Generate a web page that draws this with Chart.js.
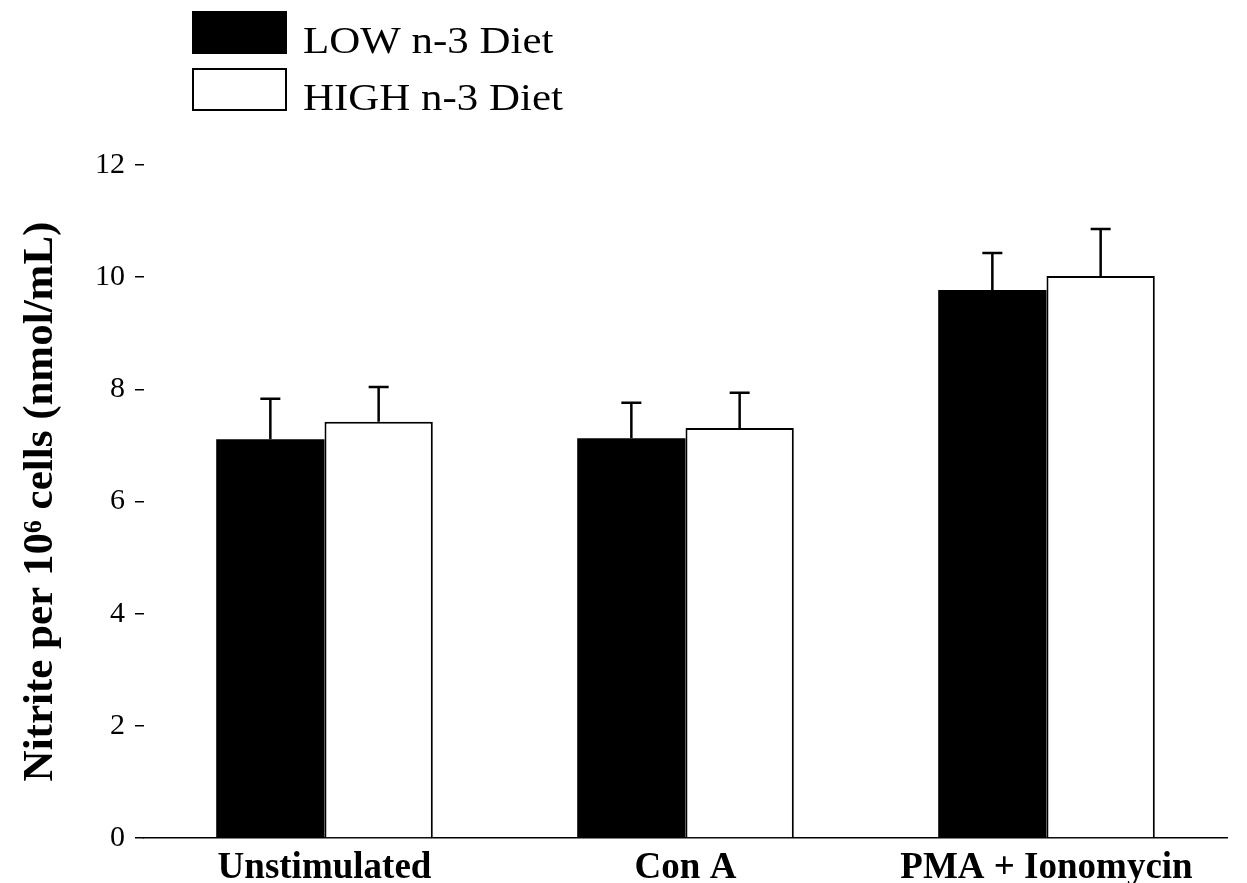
<!DOCTYPE html>
<html>
<head>
<meta charset="utf-8">
<script src="https://cdn.jsdelivr.net/npm/chart.js@4.4.0/dist/chart.umd.min.js"></script>
<style>
html, body { margin: 0; padding: 0; background: #fff; }
</style>
</head>
<body>
<canvas id="nitriteChart" width="1247" height="883"></canvas>
<script>
// Data
const categories = ['Unstimulated', 'Con A', 'PMA + Ionomycin'];
const seriesNames = ['LOW n-3 Diet', 'HIGH n-3 Diet'];
const lowValues = [7.11, 7.13, 9.77];
const lowErrors = [0.72, 0.63, 0.66];
const highValues = [7.42, 7.31, 10.02];
const highErrors = [0.62, 0.63, 0.84];
const yTicks = [0, 2, 4, 6, 8, 10, 12];

const serif = "'Liberation Serif', 'Times New Roman', serif";

// Stacked legend in the top-left corner
const stackedLegend = {
    id: 'stackedLegend',
    afterDraw(chart) {
        const ctx = chart.ctx;
        chart.data.datasets.forEach((ds, i) => {
            const y = 12 + i * 57;
            ctx.save();
            ctx.fillStyle = ds.backgroundColor;
            ctx.fillRect(193, y, 93, 41);
            ctx.strokeStyle = '#000';
            ctx.lineWidth = 2;
            ctx.strokeRect(193, y, 93, 41);
            // the scanned legend text is a little wider than the font
            ctx.translate(303, y + 41);
            ctx.scale(1.13, 1);
            ctx.fillStyle = '#000';
            ctx.font = '38px ' + serif;
            ctx.textBaseline = 'alphabetic';
            ctx.fillText(ds.label, 0, 0);
            ctx.restore();
        });
    }
};

// Upward-only error whiskers with caps
const errorBars = {
    id: 'errorBars',
    afterDatasetsDraw(chart) {
        const ctx = chart.ctx;
        const yScale = chart.scales.y;
        ctx.save();
        ctx.strokeStyle = '#000';
        ctx.lineWidth = 2.5;
        chart.data.datasets.forEach((ds, i) => {
            const meta = chart.getDatasetMeta(i);
            meta.data.forEach((bar, j) => {
                const top = yScale.getPixelForValue(ds.data[j] + ds.errors[j]);
                ctx.beginPath();
                ctx.moveTo(bar.x, bar.y);
                ctx.lineTo(bar.x, top);
                ctx.moveTo(bar.x - 10, top);
                ctx.lineTo(bar.x + 10, top);
                ctx.stroke();
            });
        });
        ctx.restore();
    }
};

const ctx = document.getElementById('nitriteChart').getContext('2d');
new Chart(ctx, {
    type: 'bar',
    data: {
        labels: categories,
        datasets: [{
            label: seriesNames[0],
            data: lowValues,
            errors: lowErrors,
            backgroundColor: '#000',
            borderColor: '#000',
            borderWidth: 0
        }, {
            label: seriesNames[1],
            data: highValues,
            errors: highErrors,
            backgroundColor: '#fff',
            borderColor: '#000',
            borderWidth: 2
        }]
    },
    options: {
        responsive: false,
        animation: false,
        layout: {
            padding: { top: 165, right: 20, left: 0, bottom: 0 }
        },
        datasets: {
            bar: { categoryPercentage: 0.6, barPercentage: 1.0 }
        },
        plugins: {
            legend: { display: false },
            tooltip: { enabled: false }
        },
        scales: {
            x: {
                grid: { display: false, drawTicks: false },
                border: { display: true, color: '#000', width: 1.5 },
                ticks: {
                    color: '#000',
                    padding: 10,
                    font: { family: serif, size: 37, weight: 'bold', lineHeight: 1.1 }
                },
                afterFit(scale) { scale.height = 45; }
            },
            y: {
                min: 0,
                max: 12,
                afterBuildTicks(scale) {
                    scale.ticks = yTicks.map(v => ({ value: v }));
                },
                grid: {
                    drawOnChartArea: false,
                    drawTicks: true,
                    tickLength: 9,
                    color: '#000',
                    lineWidth: 1.5
                },
                border: { display: false },
                ticks: {
                    color: '#000',
                    padding: 10,
                    font: { family: serif, size: 30 }
                },
                title: {
                    display: true,
                    text: 'Nitrite per 10\u2076 cells (nmol/mL)',
                    color: '#000',
                    padding: { top: 15, bottom: 0 },
                    font: { family: serif, size: 43, weight: 'bold' }
                },
                afterFit(scale) { scale.width = 144; }
            }
        }
    },
    plugins: [stackedLegend, errorBars]
});
</script>
</body>
</html>
